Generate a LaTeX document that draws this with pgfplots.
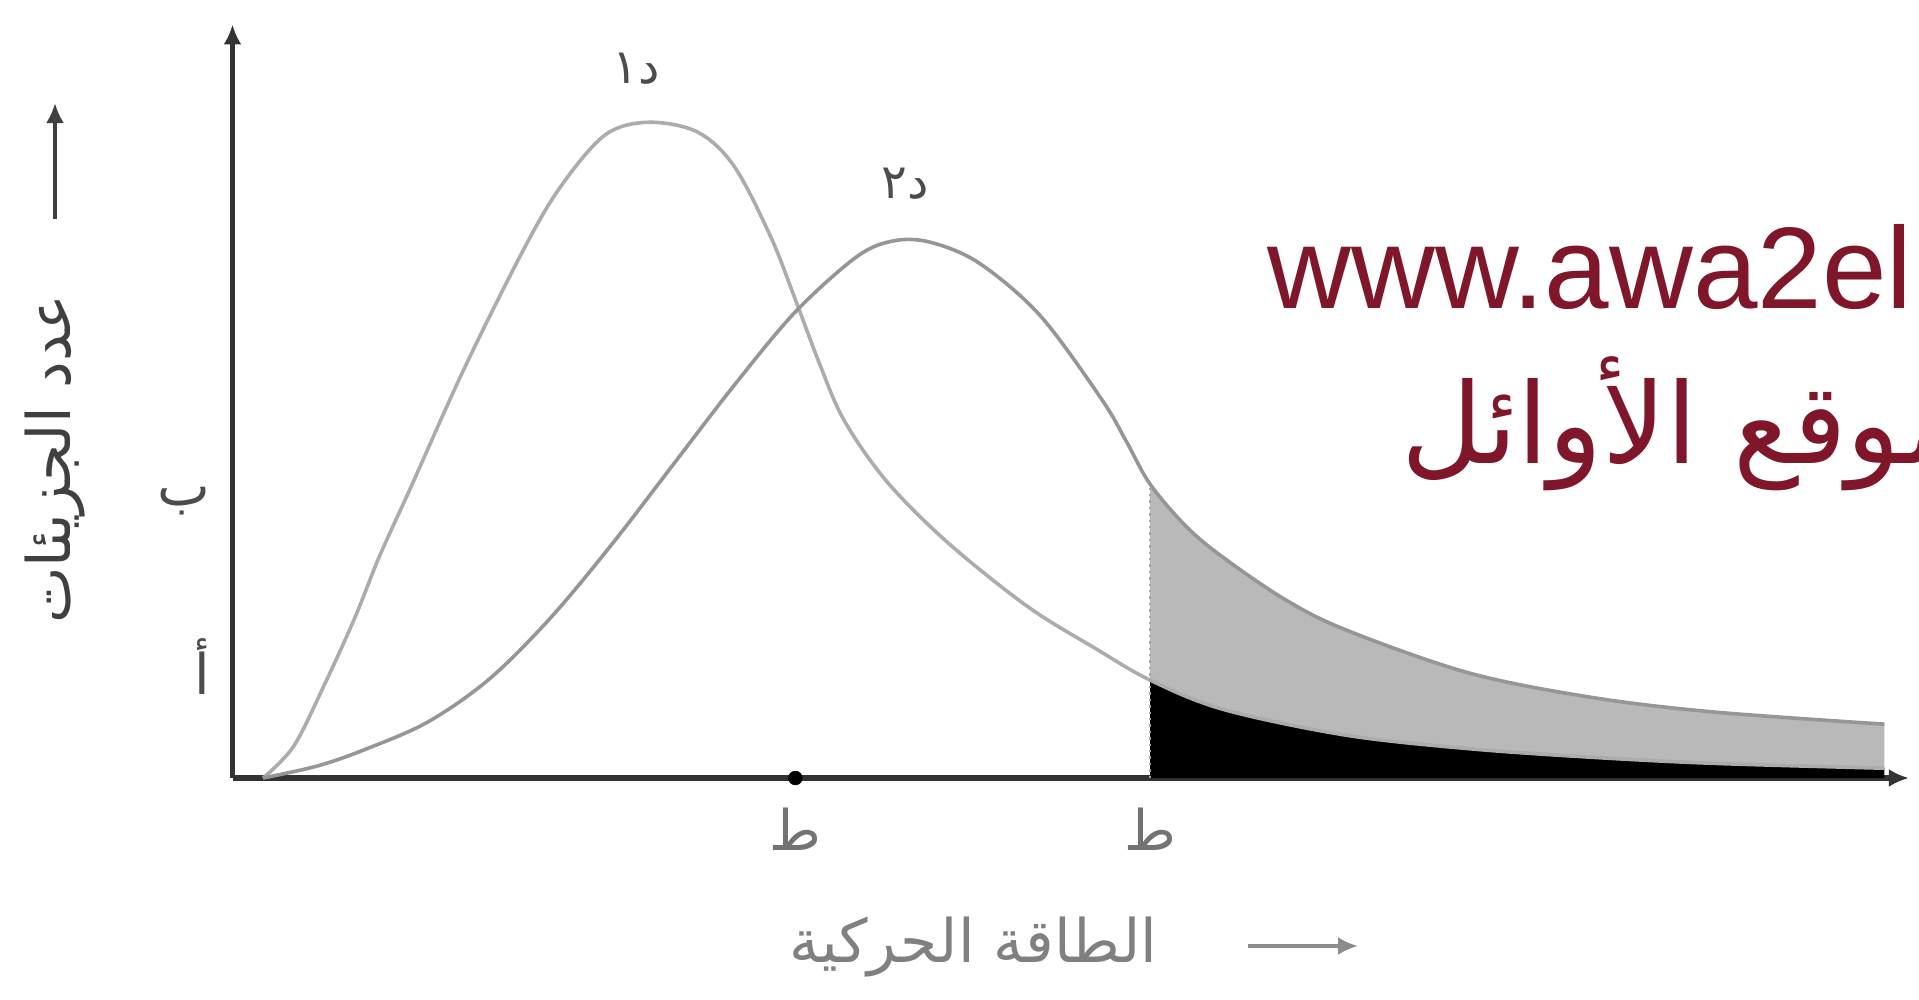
\documentclass[border=0pt]{standalone}
\usepackage{pgfplots}
\pgfplotsset{compat=1.18}
\usepgfplotslibrary{fillbetween}
\usetikzlibrary{arrows.meta}
\usepackage{fontspec}
\setmainfont{Liberation Sans}
\newfontfamily\arabicfont[Script=Arabic]{DejaVu Sans}
\TeXXeTstate=1
\definecolor{wmred}{RGB}{128,22,42}
\definecolor{curveA}{RGB}{172,172,172}
\definecolor{curveB}{RGB}{150,150,150}

\begin{document}
\begin{tikzpicture}
\begin{axis}[
  at={(58.125pt,55.25pt)}, anchor=south west,
  scale only axis, width=419.1pt, height=188.4pt,
  xmin=0, xmax=13.7, ymin=0, ymax=6.16,
  axis lines=left, set layers, clip=false,
  axis line style={line width=1.4pt, black!80},
  x axis line style={-{Latex[length=5pt,width=4.5pt]}},
  y axis line style={-{Latex[length=5pt,width=4.5pt]}},
  xtick={4.6,7.5}, ytick={0.91,2.26},
  xticklabels={{\arabicfont ط},{\arabicfont ط}},
  yticklabels={{\arabicfont أ},{\arabicfont ب}},
  major tick length=0pt,
  xticklabel style={font=\fontsize{14}{14}\selectfont, text=black!55, yshift=-4pt},
  yticklabel style={font=\fontsize{14}{14}\selectfont, text=black!70, xshift=-2pt},
]
% energy distribution at the lower temperature
\addplot[name path=c1, curveA, line width=0.9pt, smooth, tension=0.55] coordinates {
 (0.25,0) (0.5,0.26) (0.75,0.76) (1.0,1.31) (1.2,1.81) (1.45,2.36) (1.9,3.36)
 (2.4,4.36) (2.7,4.86) (3.05,5.26) (3.4,5.36) (3.8,5.28) (4.1,5.0) (4.4,4.42)
 (4.6,3.91) (4.8,3.38) (5.0,2.92) (5.35,2.42) (5.85,1.92) (6.5,1.40)
 (7.05,1.06) (7.5,0.80) (8.1,0.56) (9.1,0.35) (10.1,0.24) (11.1,0.17)
 (12.1,0.12) (13.5,0.08)};
% energy distribution at the higher temperature
\addplot[name path=c2, curveB, line width=0.9pt, smooth, tension=0.55] coordinates {
 (0.25,0) (0.7,0.10) (1.1,0.24) (1.6,0.46) (2.1,0.81) (2.6,1.31) (3.1,1.91)
 (3.6,2.56) (4.1,3.21) (4.6,3.81) (5.1,4.26) (5.4,4.39) (5.7,4.38) (6.1,4.21)
 (6.6,3.78) (7.1,3.10) (7.3,2.76) (7.5,2.40) (7.8,2.05) (8.1,1.80) (8.6,1.46)
 (9.1,1.21) (10.1,0.86) (11.1,0.66) (12.1,0.54) (13.5,0.44)};
\addplot[name path=base, draw=none] coordinates {(0,0) (13.7,0)};
% molecules above the threshold energy
\addplot[gray!55] fill between[of=c2 and c1, soft clip={domain=7.5:13.5}];
\addplot[black] fill between[of=c1 and base, soft clip={domain=7.5:13.5}];
\addplot[gray!70, line width=0.6pt, densely dotted] coordinates {(7.5,0) (7.5,2.40)};
% tick dot on the energy axis
\addplot[only marks, mark=*, mark size=1.6pt, black] coordinates {(4.6,0)};
% curve labels
\node[font=\fontsize{12}{12}\selectfont, text=black!70] at (axis cs:3.3,5.8) {\arabicfont\beginR د١\endR};
\node[font=\fontsize{12}{12}\selectfont, text=black!70] at (axis cs:5.5,4.86) {\arabicfont\beginR د٢\endR};
\end{axis}
% axis titles
\node[rotate=90, font=\fontsize{15}{15}\selectfont, text=black!75] at (13.75pt,135pt) {\arabicfont\beginR عدد الجزيئات\endR};
\draw[black!75, line width=0.9pt, -{Latex[length=5pt,width=4.5pt]}] (13.75pt,195pt) -- (13.75pt,224pt);
\node[font=\fontsize{15}{15}\selectfont, text=black!50] at (243.25pt,13pt) {\arabicfont\beginR الطاقة الحركية\endR};
\draw[black!45, line width=0.9pt, -{Latex[length=5pt,width=4.5pt]}] (312pt,13.25pt) -- (339.5pt,13.25pt);
% site mark
\node[anchor=base west, inner sep=0pt, font=\fontsize{29}{29}\selectfont, text=wmred] at (316.75pt,172.75pt) {www.awa2el.net};
\node[anchor=base west, inner sep=0pt, font=\fontsize{28}{28}\selectfont, text=wmred] at (350.25pt,134pt) {\arabicfont\beginR موقع الأوائل\endR};
\pgfresetboundingbox
\path (0pt,0pt) rectangle (479.75pt,249.75pt);
\end{tikzpicture}
\end{document}
